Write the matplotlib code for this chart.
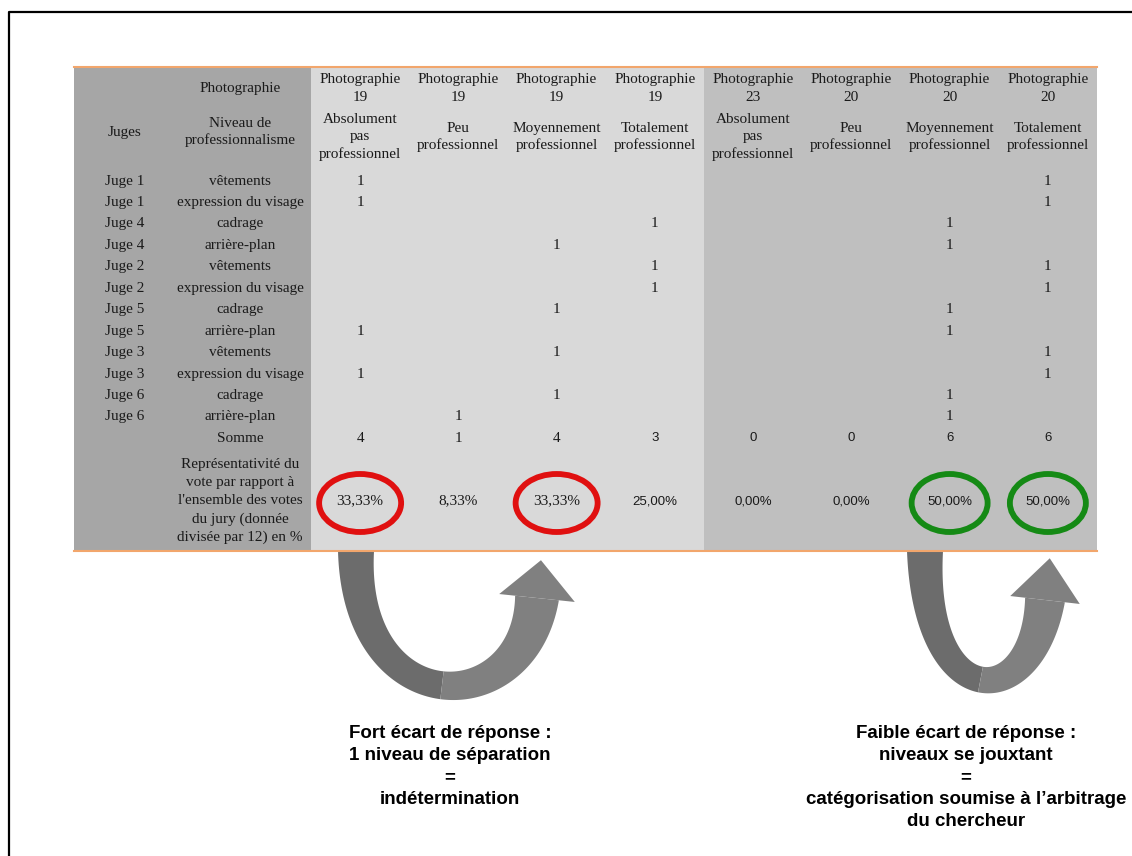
import numpy as np
import matplotlib.pyplot as plt
from matplotlib.patches import Rectangle, Ellipse, Polygon

# table content
photo_ids = [19, 19, 19, 19, 23, 20, 20, 20]
levels = ["Absolument\npas\nprofessionnel", "Peu\nprofessionnel",
          "Moyennement\nprofessionnel", "Totalement\nprofessionnel"] * 2
judges = ["Juge 1", "Juge 1", "Juge 4", "Juge 4", "Juge 2", "Juge 2",
          "Juge 5", "Juge 5", "Juge 3", "Juge 3", "Juge 6", "Juge 6"]
criteria = ["vêtements", "expression du visage", "cadrage", "arrière-plan"] * 3
# column picked by each judge for photo 19 and for photo 20
vote_19 = [0, 0, 3, 2, 3, 3, 2, 0, 2, 0, 2, 1]
vote_20 = [7, 7, 6, 6, 7, 7, 6, 6, 7, 7, 6, 6]
n_votes = 12
circled_red = [0, 2]
circled_green = [6, 7]

left_text = ["Fort écart de réponse :", "1 niveau de séparation", "=", "indétermination"]
right_text = ["Faible écart de réponse :", "niveaux se jouxtant", "=",
              "catégorisation soumise à l’arbitrage", "du chercheur"]

votes = np.zeros((len(judges), len(photo_ids)), dtype=int)
for i, (a, b) in enumerate(zip(vote_19, vote_20)):
    votes[i, a] = 1
    votes[i, b] = 1
sums = votes.sum(axis=0)
pcts = sums / n_votes * 100

SERIF = "Liberation Serif"
SANS = "Liberation Sans"
TXT = "#1a1a1a"

fig = plt.figure(figsize=(11.32, 8.56), dpi=100)
ax = fig.add_axes([0, 0, 1, 1])
ax.set_xlim(0, 1132)
ax.set_ylim(856, 0)
ax.axis("off")

# frame of the slide
ax.plot([9, 9, 1132], [856, 12, 12], color="black", lw=1.6, solid_capstyle="butt")

# table geometry
tab_l, tab_r, tab_t, tab_b = 74, 1097, 67, 551
col_l = 311
col_w = (tab_r - col_l) / len(photo_ids)
col_x = [col_l + col_w * (j + 0.5) for j in range(len(photo_ids))]
x_judge, x_crit = 125, 240
y_head1, y_head2 = 88, 137
y_row0, row_h = 181, 21.45
y_sum = y_row0 + row_h * len(judges)
y_pct = 501

ax.add_patch(Rectangle((tab_l, tab_t), col_l - tab_l, tab_b - tab_t, color="#a6a6a6", lw=0))
ax.add_patch(Rectangle((col_l, tab_t), col_w * 4, tab_b - tab_t, color="#d9d9d9", lw=0))
ax.add_patch(Rectangle((col_l + col_w * 4, tab_t), col_w * 4, tab_b - tab_t, color="#bfbfbf", lw=0))
ax.plot([tab_l, tab_r], [tab_t, tab_t], color="#f2a66c", lw=1.5)
ax.plot([tab_l, tab_r], [tab_b, tab_b], color="#f2a66c", lw=1.5)

kw = dict(ha="center", va="center", color=TXT, family=SERIF, fontsize=11, linespacing=1.2)
ax.text(x_crit, y_head1, "Photographie", **kw)
ax.text(x_judge, y_head2 - 5, "Juges", **kw)
ax.text(x_crit, y_head2 - 5, "Niveau de\nprofessionnalisme", **{**kw, "linespacing": 1.35})
for j, (pid, lev) in enumerate(zip(photo_ids, levels)):
    ax.text(col_x[j], y_head1, f"Photographie\n{pid}", **{**kw, "linespacing": 1.5})
    ax.text(col_x[j], y_head2, lev, **{**kw, "linespacing": 1.35})

for i, (jg, cr) in enumerate(zip(judges, criteria)):
    y = y_row0 + i * row_h
    ax.text(x_judge, y, jg, **kw)
    ax.text(x_crit, y, cr, **kw)
    for j in range(len(photo_ids)):
        if votes[i, j]:
            ax.text(col_x[j], y, str(votes[i, j]), **kw)

ax.text(x_crit, y_sum, "Somme", **kw)
ax.text(x_crit, y_pct, "Représentativité du\nvote par rapport à\nl'ensemble des votes\n"
        "du jury (donnée\ndivisée par 12) en %", **{**kw, "linespacing": 1.5})
for j in range(len(photo_ids)):
    fam = SERIF if j < 3 else SANS
    size = 11 if j < 3 else 9.5
    ax.text(col_x[j], y_sum, str(sums[j]), **{**kw, "family": fam, "fontsize": size})
    ax.text(col_x[j], y_pct, f"{pcts[j]:.2f}%".replace(".", ","),
            **{**kw, "family": fam, "fontsize": size})

for j in circled_red:
    ax.add_patch(Ellipse((col_x[j], y_pct + 2), 82, 58, fill=False, ec="#e01010", lw=4.2))
for j in circled_green:
    ax.add_patch(Ellipse((col_x[j], y_pct + 2), 76, 58, fill=False, ec="#158a15", lw=4.2))


def curved_arrow(p0, p1, p2, p3, widths, head_w, head_len, colors):
    P = np.array([p0, p1, p2, p3], dtype=float)
    t = np.linspace(0, 1, 120)[:, None]
    pts = ((1 - t) ** 3 * P[0] + 3 * (1 - t) ** 2 * t * P[1]
           + 3 * (1 - t) * t ** 2 * P[2] + t ** 3 * P[3])
    der = (3 * (1 - t) ** 2 * (P[1] - P[0]) + 6 * (1 - t) * t * (P[2] - P[1])
           + 3 * t ** 2 * (P[3] - P[2]))
    der /= np.linalg.norm(der, axis=1, keepdims=True)
    nrm = np.column_stack([-der[:, 1], der[:, 0]])
    w0, wm, w1 = widths
    tt = t[:, 0]
    w = w0 * (1 - tt) * (1 - 2 * tt) + wm * 4 * tt * (1 - tt) + w1 * tt * (2 * tt - 1)
    side_a = pts + nrm * w[:, None] / 2
    side_b = pts - nrm * w[:, None] / 2
    half = len(tt) // 2
    for sl, c in [(slice(0, half + 1), colors[0]), (slice(half, None), colors[1])]:
        poly = np.vstack([side_a[sl], side_b[sl][::-1]])
        ax.add_patch(Polygon(poly, closed=True, color=c, lw=0, zorder=1))
    u = der[-1]
    n = nrm[-1]
    tip = P[3] + u * head_len
    head = [P[3] + n * head_w / 2, tip, P[3] - n * head_w / 2]
    ax.add_patch(Polygon(head, closed=True, color=colors[1], lw=0, zorder=1))


curved_arrow((356, 551), (354, 722), (524, 722), (537, 598), (36, 28, 44), 76, 38,
             ("#6c6c6c", "#808080"))
curved_arrow((925, 551), (924, 714), (1032, 714), (1045, 600), (36, 26, 40), 70, 42,
             ("#6c6c6c", "#808080"))

for k, line in enumerate(left_text):
    ax.text(450, 734 + 22 * k, line, ha="center", va="center", family=SANS,
            weight="bold", fontsize=13.5, color="black")
for k, line in enumerate(right_text):
    ax.text(966, 734 + 22 * k, line, ha="center", va="center", family=SANS,
            weight="bold", fontsize=13.5, color="black")

fig.savefig("out.png", dpi=100)
